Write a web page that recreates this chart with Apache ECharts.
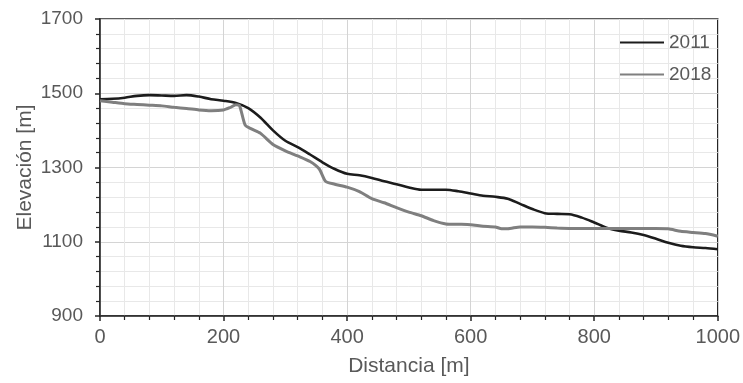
<!DOCTYPE html>
<html><head><meta charset="utf-8">
<script src="https://cdn.jsdelivr.net/npm/echarts@6/dist/echarts.min.js"></script>
<style>html,body{margin:0;padding:0;background:#fff}#c{width:743px;height:383px}</style>
</head><body><div id="c"></div>
<script>
const dist2011 = [0,20,40,60,80,100,120,140,160,180,200,220,240,260,280,300,320,340,360,380,400,420,440,460,480,500,520,540,560,580,600,620,640,660,680,700,720,740,760,780,800,820,840,860,880,900,920,940,960,980,1000];
const elev2011 = [1484,1485,1488,1493,1495,1494,1493,1495,1491,1484,1480,1474,1460,1434,1400,1372,1355,1335,1314,1296,1283,1279,1272,1263,1255,1246,1240,1240,1240,1236,1230,1224,1221,1216,1202,1188,1177,1175,1174,1165,1152,1138,1130,1125,1118,1108,1097,1089,1085,1083,1080];
const dist2018 = [0,20,40,60,80,100,120,140,160,180,200,210,220,226,235,245,260,280,300,320,340,355,365,380,400,420,440,460,480,500,520,540,560,580,600,620,640,650,660,680,700,720,740,760,800,850,900,920,940,960,980,1000];
const elev2018 = [1480,1476,1472,1470,1468,1466,1462,1459,1455,1453,1455,1461,1469,1466,1414,1404,1392,1362,1345,1331,1316,1296,1263,1255,1247,1235,1216,1205,1192,1180,1170,1157,1148,1147,1146,1142,1140,1135,1135,1140,1140,1139,1137,1136,1136,1136,1136,1135,1128,1125,1122,1115];
const xTicks = {min:0, max:1000, interval:200};
const yTicks = {min:900, max:1700, interval:200};

const font = '"Liberation Sans", Arial, sans-serif';
const txt = '#595959';
const chart = echarts.init(document.getElementById('c'), null, {renderer:'canvas'});
function axisCommon(labelSize){
  return {
    axisLine:{show:true, lineStyle:{color:'#262626', width:1.5}},
    axisTick:{show:true, inside:false, length:5, lineStyle:{color:'#262626', width:1.5}},
    minorTick:{show:true, splitNumber:5, length:4, lineStyle:{color:'#262626', width:1.2}},
    splitLine:{show:true, lineStyle:{color:'#d4d4d4', width:1}},
    minorSplitLine:{show:true, lineStyle:{color:'#e8e8e8', width:1}},
    axisLabel:{color:txt, fontFamily:font, fontSize:labelSize, formatter:(v)=>String(v)},
    nameTextStyle:{color:txt, fontFamily:font, fontSize:21},
    nameMoveOverlap:false
  };
}
const xa = Object.assign(axisCommon(20), {type:'value', min:xTicks.min, max:xTicks.max, interval:xTicks.interval,
  name:'Distancia [m]', nameLocation:'middle', nameGap:40});
xa.axisLabel.margin = 11;
const ya = Object.assign(axisCommon(19), {type:'value', min:yTicks.min, max:yTicks.max, interval:yTicks.interval,
  name:'Elevación [m]', nameLocation:'middle', nameGap:64});
ya.axisLabel.margin = 17;

chart.setOption({
  animation:false,
  backgroundColor:'#fff',
  grid:{left:100, right:25, top:19, bottom:67, show:true, borderColor:'#262626', borderWidth:1.5, backgroundColor:'transparent'},
  xAxis: xa,
  yAxis: ya,
  legend:{show:true, orient:'vertical', left:614, top:28, itemWidth:44, itemHeight:18, itemGap:13,
    itemStyle:{opacity:0},
    textStyle:{color:txt, fontFamily:font, fontSize:19},
    data:['2011','2018']},
  series:[
    {name:'2011', type:'line', symbol:'none', smooth:0.3,
     data: dist2011.map((d,i)=>[d, elev2011[i]]),
     lineStyle:{color:'#1c1c1c', width:2.6}, itemStyle:{color:'#1c1c1c'}},
    {name:'2018', type:'line', symbol:'none', smooth:0.2,
     data: dist2018.map((d,i)=>[d, elev2018[i]]),
     lineStyle:{color:'#7f7f7f', width:3}, itemStyle:{color:'#7f7f7f'}}
  ]
});
</script></body></html>
